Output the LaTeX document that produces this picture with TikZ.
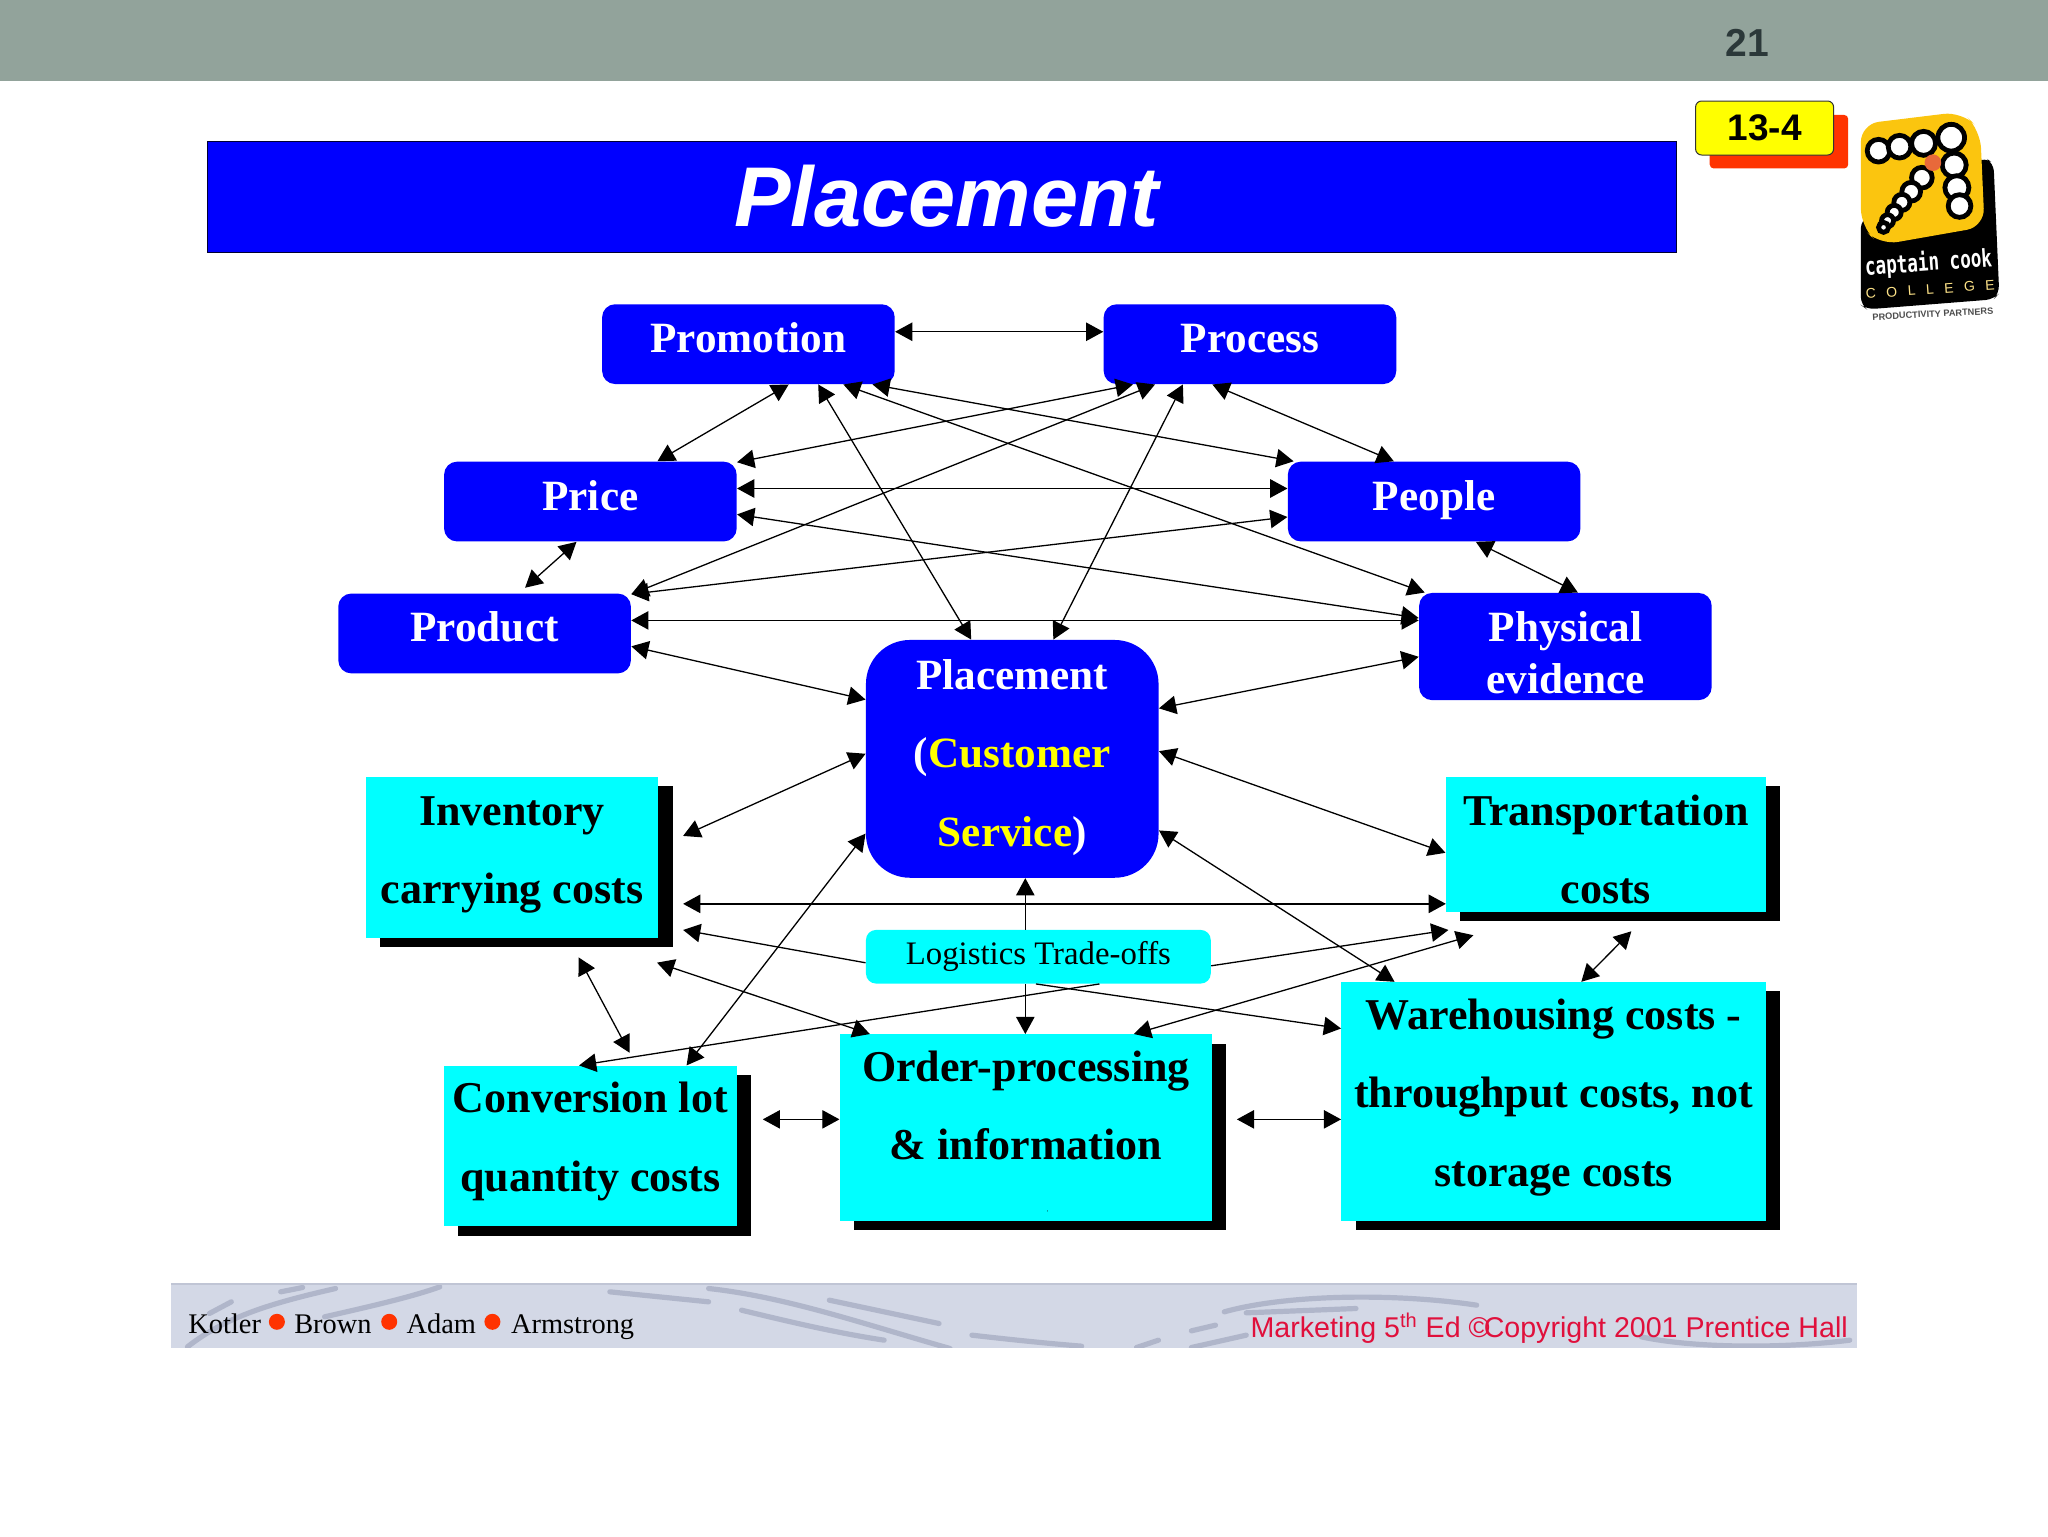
\documentclass[tikz,border=0pt]{standalone}
\usepackage{fontspec}
\usetikzlibrary{arrows.meta,shadows}
\setmainfont{Liberation Serif}
\newfontfamily\arialfont{Liberation Sans}
\newfontfamily\monofont{DejaVu Sans Mono}
\definecolor{barcol}{HTML}{92A39B}
\definecolor{numcol}{HTML}{2B3839}
\definecolor{tagred}{HTML}{FF3300}
\definecolor{tagyellow}{RGB}{255,255,0}
\definecolor{boxblue}{RGB}{0,0,255}
\definecolor{boxcyan}{RGB}{0,255,255}
\definecolor{footbg}{HTML}{D3D8E6}
\definecolor{footline}{HTML}{B0B6CA}
\definecolor{footred}{HTML}{E0103C}
\definecolor{logoyellow}{HTML}{FBC50F}
\definecolor{logodot}{HTML}{E8693A}
\tikzset{
  boxlabel/.style={font=\fontsize{22}{39.2}\selectfont\bfseries, align=center, inner xsep=0pt, inner ysep=0pt},
  bluebox/.style={boxlabel, font=\fontsize{21.6}{39.2}\selectfont\bfseries, fill=boxblue, text=white, rounded corners=6.5pt, minimum width=146.3pt},
  costbox/.style={boxlabel, fill=boxcyan, text=black, drop shadow={shadow xshift=7.2pt, shadow yshift=-4.6pt, fill=black, opacity=1}},
  link/.style={<->, line width=0.65pt},
  oneway/.style={->, line width=0.65pt}
}
\begin{document}
\begin{tikzpicture}[x=0.65306pt, y=-0.65306pt, >={Triangle[length=8.6pt,width=9.2pt]}]
  \useasboundingbox (0,0) rectangle (1568,1176);
  % header
  \fill[barcol] (0,0) rectangle (1568,62);
  \node[font=\arialfont\fontsize{19.5}{24}\selectfont\bfseries, text=numcol] (pagenum) at (1338,33) {21};
  \fill[tagred, rounded corners=2pt] (1309,88) rectangle (1415,129);
  \node[fill=tagyellow, draw=black!80, line width=0.5pt, rounded corners=3pt, minimum width=69pt, minimum height=27pt, inner sep=0pt, font=\arialfont\fontsize{18.5}{22}\selectfont\bfseries] (tag) at (1351,98) {13-4};
  \node[fill=boxblue, draw=black!80!blue, line width=0.5pt, minimum width=734.6pt, minimum height=55.5pt, inner sep=0pt, text=white, font=\arialfont\fontsize{42.4}{48}\selectfont\bfseries\itshape] (title) at (721.5,150.5) {\hspace*{4pt}Placement};

  % logo (pixel grid of the logo)
  \begin{scope}[shift={(1263.4,0)}, x=0.16668pt, y=-0.16668pt]
    \fill[black, rounded corners=4pt] (632,660) -- (1003,472) -- (1030,490) -- (1047,880) -- (1030,898) -- (650,928) -- (632,915) -- cycle;
    \fill[logoyellow, rounded corners=9pt] (632,372) -- (935,335) -- (990,390) -- (1003,680) -- (690,735) -- (632,680) -- cycle;
    \foreach \x/\y/\r in {685/452/34, 748/440/34, 820/430/36, 903/413/40, 912/495/36, 920/563/36, 928/618/34, 815/533/31, 783/575/28, 755/607/24, 732/637/21, 712/662/18, 700/682/15}
      \filldraw[fill=white, draw=black, line width=2.4pt] (\x,\y) circle (\r);
    \fill[logodot] (848,488) circle (25);
    \node[font=\monofont\fontsize{8.8}{10}\selectfont\bfseries, text=white, rotate=4, yscale=1.4, inner sep=0pt] (logoname) at (835,790) {captain cook};
    \node[font=\arialfont\fontsize{7}{8}\selectfont\addfontfeature{LetterSpace=75}, text=logoyellow!50!white, rotate=4, inner sep=0pt] (logosub) at (840,868) {COLLEGE};
    \node[font=\arialfont\fontsize{4.6}{5}\selectfont\bfseries, text=black!70, rotate=3, inner sep=0pt] (logotag) at (848,942) {PRODUCTIVITY PARTNERS};
  \end{scope}

  % blue boxes
  \node[bluebox, text height=24.2pt, text depth=15.7pt] (promotion) at (573,263.5) {Promotion};
  \node[bluebox, text height=24.2pt, text depth=15.7pt] (process) at (957,263.5) {Process};
  \node[bluebox, text height=24.2pt, text depth=15.7pt] (price) at (452,384) {Price};
  \node[bluebox, text height=24.2pt, text depth=15.7pt] (people) at (1098,384) {People};
  \node[bluebox, text height=24.2pt, text depth=15.7pt] (product) at (371,485) {Product};
  \node[bluebox, font=\fontsize{21.6}{26.1}\selectfont\bfseries, text height=50.3pt, text depth=3.3pt] (physical) at (1198.5,495) {Physical\\evidence};
  \node[bluebox, rounded corners=22pt, text height=103.2pt, text depth=15.7pt] (placement) at (775,581) {Placement\\(\textcolor{tagyellow}{Customer}\\\textcolor{tagyellow}{Service})};

  % cost boxes
  \node[costbox, minimum width=146.3pt, text height=63.3pt, text depth=17pt] (inventory) at (392,656.5) {Inventory\\carrying costs};
  \node[costbox, minimum width=160pt, text height=63.3pt, text depth=3.9pt] (transport) at (1229.5,646.5) {Transportation\\costs};
  \node[costbox, minimum width=146.3pt, text height=62.7pt, text depth=17.6pt] (conversion) at (452,877.5) {Conversion lot\\quantity costs};
  \node[costbox, minimum width=186.1pt, text height=62.7pt, text depth=30.7pt] (order) at (785.5,863.5) {Order-processing\\\& information};
  \node[costbox, minimum width=212.2pt, text height=101.9pt, text depth=17.6pt] (warehouse) at (1189.5,843.5) {Warehousing costs -\\throughput costs, not\\storage costs};
  \node[fill=boxcyan, rounded corners=5pt, minimum width=172.4pt, minimum height=26.8pt, inner sep=0pt, font=\fontsize{16.4}{20}\selectfont] (logistics) at (795,732.5) {Logistics Trade-offs};
  \node[inner sep=0pt, font=\fontsize{3}{4}\selectfont] (tick) at (802,928) {,};

  % free arrow ends
  \coordinate (prodA) at (402,450);
  \coordinate (invA) at (523,640);
  \coordinate (invB) at (523,692);
  \coordinate (invC) at (523,712);
  \coordinate (invD) at (503,737);
  \coordinate (invE) at (443,733);
  \coordinate (conA) at (482,806);
  \coordinate (conB) at (584,857);
  \coordinate (ordA) at (947,857);
  \coordinate (traA) at (1107,692);
  \coordinate (traB) at (1109,712);
  \coordinate (traC) at (1128,716);
  \coordinate (traD) at (1249,713);

  % upper arrows
  \draw[link] (promotion.east |- 0,254) -- (process.west |- 0,254);
  \draw[link] (promotion.-45.5) -- (price.31.3);
  \draw[link] (price.-109.5) -- (prodA);
  \draw[link] (promotion.-30.4) -- (placement.109.4);
  \draw[link] (promotion.-23) -- (physical.159.8);
  \draw[link] (promotion.-18) -- (people.164.5);
  \draw[link] (process.-161.7) -- (price.15.2);
  \draw[link] (process.-157.3) -- (product.15.4);
  \draw[link] (process.-149.6) -- (placement.71.2);
  \draw[link] (process.-133.6) -- (people.135);
  \draw[link] (price.east |- 0,374) -- (people.west |- 0,374);
  \draw[link] (price.-5.6) -- (physical.169.3);
  \draw[link] (people.-174.4) -- (product.15.4);
  \draw[link] (people.-44) -- (physical.77);
  \draw[link] (product.east |- 0,475) -- (physical.west |- 0,475);
  \draw[link] (product.-5.6) -- (placement.158.1);
  \draw[link] (placement.19.7) -- (physical.-176.9);

  % lower arrows
  \draw[link] (placement.178.5) -- (invA);
  \draw[link] (placement.3.1) -- (transport.-177.4);
  \draw[link] (placement.-153) -- (conversion.40.9);
  \draw[link] (placement.-26.6) -- (warehouse.143.1);
  \draw[link] (invB) -- (traA);
  \draw[oneway] (logistics.-178.9) -- (invC);
  \draw[oneway] (logistics.-3.3) -- (traB);
  \draw[oneway] (logistics.north -| 785,0) -- (placement.south -| 785,0);
  \draw[oneway] (logistics.south -| 785,0) -- (order.north -| 785,0);
  \draw[link] (invD) -- (order.149.5);
  \draw[oneway] (logistics.-24.5) -- (conversion.98.3);
  \draw[oneway] (logistics.-95.6) -- (warehouse.161.8);
  \draw[link] (invE) -- (conA);
  \draw[link] (order.41.3) -- (traC);
  \draw[link] (conB) -- (order.west |- conB);
  \draw[link] (ordA) -- (warehouse.west |- ordA);
  \draw[link] (traD) -- (warehouse.77.4);

  % footer
  \begin{scope}
    \clip (131,983) rectangle (1422,1032);
    \fill[footbg] (131,983) rectangle (1422,1032);
    \begin{scope}[shift={(122.5,964.8)}, x=0.5486pt, y=-0.16668pt, footline, line width=2.6pt, line cap=round]
      \draw (25,260) .. controls (60,170) and (100,130) .. (160,85);
      \draw (45,160) -- (65,125);
      \draw (110,95) -- (130,82);
      \draw (150,170) .. controls (190,140) and (230,110) .. (255,80);
      \draw (410,95) -- (500,125);
      \draw (500,85) .. controls (570,110) and (640,190) .. (720,265);
      \draw (530,150) .. controls (580,190) and (620,220) .. (660,240);
      \draw (610,120) -- (710,190);
      \draw (740,225) .. controls (780,240) and (810,250) .. (840,258);
      \draw (890,262) -- (910,240);
      \draw (940,262) -- (990,225);
      \draw (970,155) .. controls (1030,100) and (1130,100) .. (1200,135);
      \draw (990,158) -- (1090,145);
      \draw (940,212) -- (962,195);
      \draw (1350,230) .. controls (1400,265) and (1480,265) .. (1540,240);
    \end{scope}
  \end{scope}
  \draw[footline!80, line width=1pt] (131,983) -- (1422,983);
  \node[anchor=base west, inner sep=0pt, font=\fontsize{14.2}{18}\selectfont] (kotler) at (144,1021) {Kotler};
  \node[anchor=base west, inner sep=0pt, font=\fontsize{14.2}{18}\selectfont] (brown) at (225,1021) {Brown};
  \node[anchor=base west, inner sep=0pt, font=\fontsize{14.2}{18}\selectfont] (adam) at (311,1021) {Adam};
  \node[anchor=base west, inner sep=0pt, font=\fontsize{14.2}{18}\selectfont] (armstrong) at (391,1021) {Armstrong};
  \foreach \x in {212,298,377}
    \fill[tagred] (\x,1012) circle (4pt);
  \node[anchor=base east, inner sep=0pt, text=footred, font=\arialfont\fontsize{14.3}{17}\selectfont] (marketing) at (1415,1024) {Marketing 5\textsuperscript{th} Ed ©\kern-3pt Copyright 2001 Prentice Hall};
\end{tikzpicture}
\end{document}
